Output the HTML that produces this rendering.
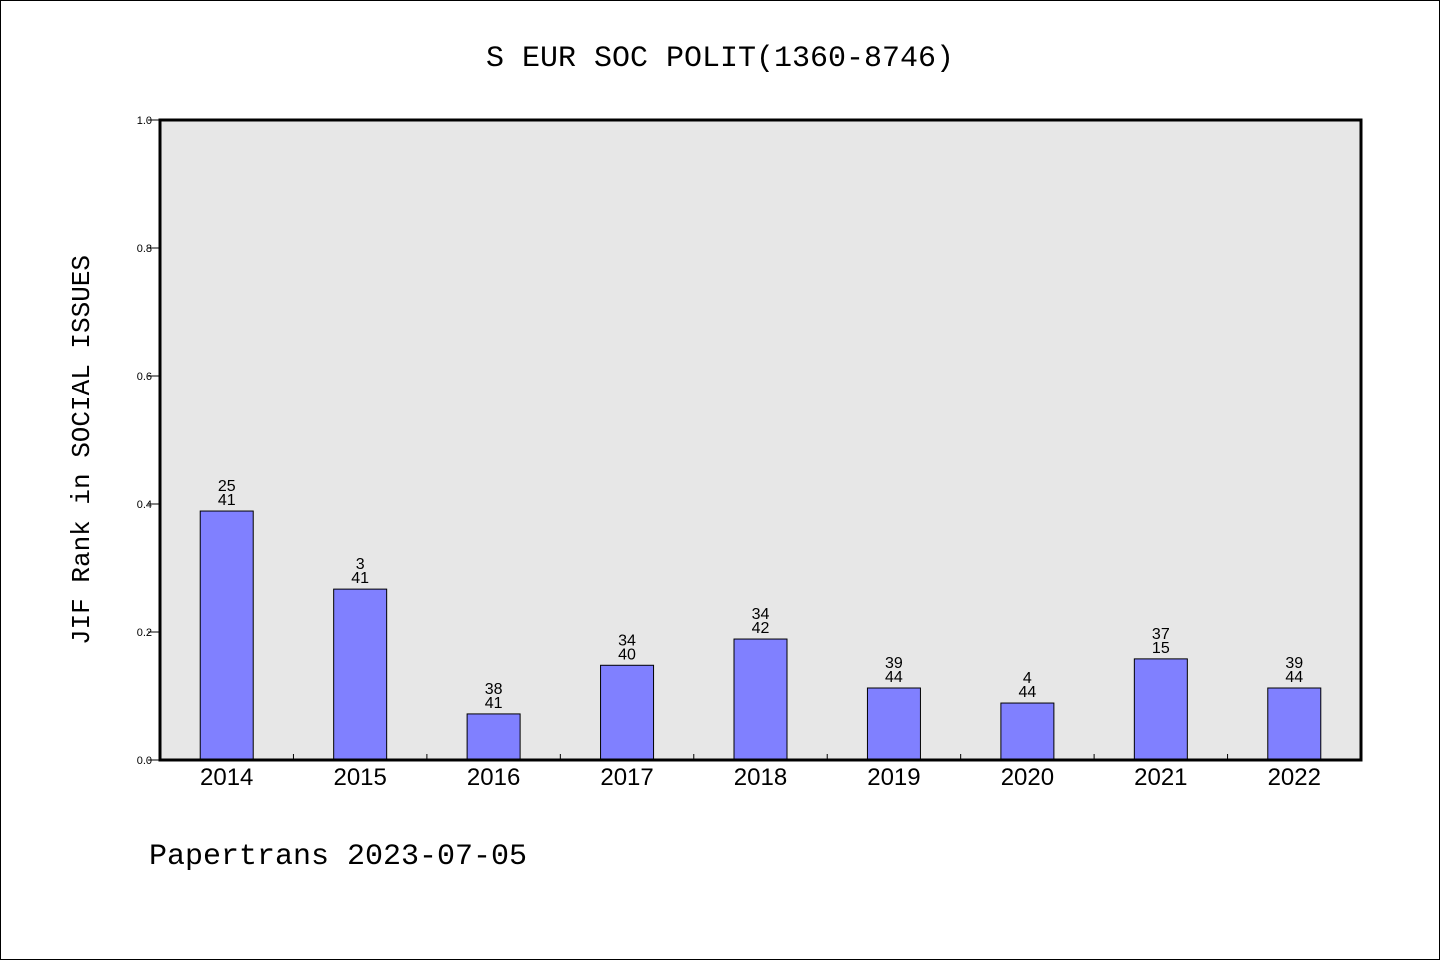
<!DOCTYPE html>
<html><head><meta charset="utf-8"><style>
html,body{margin:0;padding:0;background:#fff}
svg{display:block;font-family:"Liberation Sans","DejaVu Sans",sans-serif}
.mono{font-family:"Liberation Mono","DejaVu Sans Mono",monospace}
</style></head><body>
<svg id="chart" width="1440" height="960" xmlns="http://www.w3.org/2000/svg">
<rect x="0.5" y="0.5" width="1439" height="959" fill="#fff" stroke="#000"/>
<text class="mono" x="720" y="66" font-size="30" text-anchor="middle">S EUR SOC POLIT(1360-8746)</text>
<rect x="160" y="120" width="1201" height="640" fill="#e7e7e7"/>
<g id="marks"></g>
<rect x="160" y="120" width="1201" height="640" fill="none" stroke="#000" stroke-width="3"/>
<text class="mono" transform="translate(89,450) rotate(-90)" font-size="26" text-anchor="middle">JIF Rank in SOCIAL ISSUES</text>
<text class="mono" x="149" y="864" font-size="30">Papertrans 2023-07-05</text>
</svg>
<script>
const categories=["2014","2015","2016","2017","2018","2019","2020","2021","2022"];
const values=[0.389,0.267,0.072,0.148,0.189,0.1125,0.089,0.158,0.1125];
const rankTop=["25","3","38","34","34","39","4","37","39"];
const rankBottom=["41","41","41","40","42","44","44","15","44"];
const yTicks=[0,0.2,0.4,0.6,0.8,1.0];
const X0=160,W=1201,Y0=760,H=640;
const band=W/categories.length;
const xC=i=>X0+band*(i+0.5);
const y=v=>Y0-v*H;
const NS="http://www.w3.org/2000/svg";
const g=document.getElementById('marks');
function mk(t,a){const e=document.createElementNS(NS,t);for(const k in a)e.setAttribute(k,a[k]);g.appendChild(e);return e;}
yTicks.forEach(t=>{
  const l=mk('line',{x1:148,x2:160,y1:y(t),y2:y(t),stroke:'#000','stroke-width':1});
  
  
  const tx=mk('text',{x:152,y:y(t)+4,'font-size':11,'text-anchor':'end'});
  tx.textContent=t.toFixed(1);
  
  
});
for(let i=1;i<categories.length;i++){
  const l=mk('line',{x1:X0+band*i,x2:X0+band*i,y1:760,y2:754,stroke:'#000','stroke-width':1});
  
  
}
categories.forEach((c,i)=>{
  const bw=53;
  const r=mk('rect',{x:xC(i)-bw/2,y:y(values[i]),width:bw,height:Y0-y(values[i]),fill:'#8080ff',stroke:'#000','stroke-width':1});
  
  
  const t1=mk('text',{x:xC(i),y:y(values[i])-20,'font-size':16,'text-anchor':'middle'});
  t1.textContent=rankTop[i];
  
  
  const t2=mk('text',{x:xC(i),y:y(values[i])-6,'font-size':16,'text-anchor':'middle'});
  t2.textContent=rankBottom[i];
  
  
  const xl=mk('text',{x:xC(i),y:785,'font-size':24,'text-anchor':'middle'});
  xl.textContent=c;
  
  
});
</script>
</body></html>
